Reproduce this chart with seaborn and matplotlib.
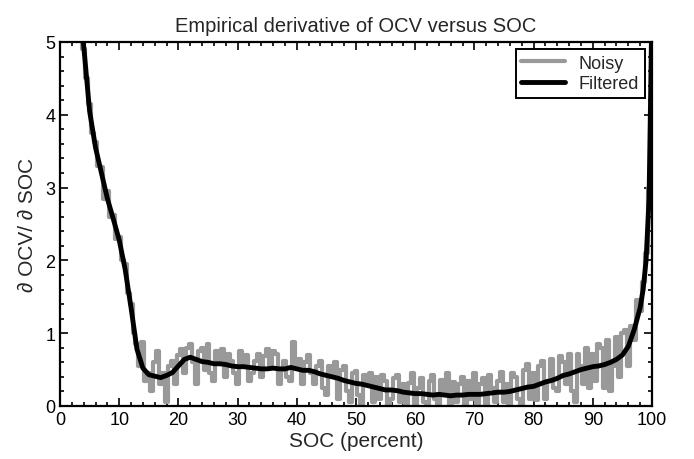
import matplotlib
matplotlib.use("Agg")
import matplotlib.pyplot as plt
from matplotlib.ticker import MultipleLocator
import seaborn as sns
import pandas as pd

# ---- data ----
ocv_noisy = [
    5.50, 4.90, 4.50,                                              # 3.5 - 4.5
    4.15, 3.75, 3.62, 3.30, 3.28, 2.85, 2.95, 2.60, 2.62, 2.30,    # 5.0 - 9.5
    2.32, 2.00, 1.95, 1.55, 1.40, 1.00, 0.85, 0.55, 0.88, 0.35,    # 10 - 14.5
    0.45, 0.20, 0.60, 0.75, 0.30, 0.45, 0.05, 0.55, 0.62, 0.30,    # 15 - 19.5
    0.70, 0.78, 0.45, 0.80, 0.85, 0.60, 0.30, 0.75, 0.80, 0.50,    # 20 - 24.5
    0.85, 0.45, 0.35, 0.75, 0.60, 0.78, 0.40, 0.72, 0.62, 0.45,    # 25 - 29.5
    0.30, 0.75, 0.55, 0.70, 0.35, 0.45, 0.62, 0.72, 0.40, 0.68,    # 30 - 34.5
    0.78, 0.55, 0.75, 0.72, 0.30, 0.50, 0.62, 0.40, 0.35, 0.88,    # 35 - 39.5
    0.55, 0.65, 0.30, 0.60, 0.70, 0.45, 0.30, 0.55, 0.62, 0.25,    # 40 - 44.5
    0.15, 0.55, 0.42, 0.60, 0.10, 0.50, 0.55, 0.20, 0.05, 0.45,    # 45 - 49.5
    0.48, 0.15, 0.00, 0.42, 0.30, 0.45, 0.05, 0.40, 0.10, 0.42,    # 50 - 54.5
    0.35, 0.00, 0.10, 0.38, 0.42, 0.05, 0.30, 0.00, 0.32, 0.45,    # 55 - 59.5
    0.00, 0.25, 0.38, 0.05, 0.00, 0.35, 0.42, 0.10, 0.00, 0.36,    # 60 - 64.5
    0.20, 0.45, 0.00, 0.33, 0.05, 0.30, 0.40, 0.00, 0.35, 0.10,    # 65 - 69.5
    0.45, 0.00, 0.30, 0.38, 0.02, 0.42, 0.25, 0.05, 0.35, 0.47,    # 70 - 74.5
    0.05, 0.30, 0.00, 0.45, 0.40, 0.10, 0.02, 0.50, 0.58, 0.10,    # 75 - 79.5
    0.45, 0.08, 0.55, 0.62, 0.10, 0.35, 0.65, 0.25, 0.20, 0.68,    # 80 - 84.5
    0.60, 0.30, 0.72, 0.20, 0.05, 0.72, 0.55, 0.30, 0.80, 0.25,    # 85 - 89.5
    0.72, 0.35, 0.85, 0.80, 0.25, 0.90, 0.20, 0.55, 0.95, 0.40,    # 90 - 94.5
    1.00, 1.05, 0.55, 1.10, 0.90, 1.45, 1.30, 1.70, 2.10, 3.00,    # 95 - 99.5
    5.50,                                                          # 100
]
soc_noisy = [3.5 + 0.5 * i for i in range(len(ocv_noisy))]  # sample positions 3.5 .. 100

soc_filtered = [3, 4, 5, 6, 7, 8, 9, 10, 11, 12, 13, 14, 15, 16, 17, 18, 19, 20,
                21, 22, 23, 24, 25, 26, 27, 28, 29, 30, 31, 32, 33, 34, 35, 36, 37, 38,
                39, 40, 41, 42, 43, 44, 45, 46, 47, 48, 49, 50, 51, 52, 53, 54, 55, 56,
                57, 58, 59, 60, 61, 62, 63, 64, 65, 66, 67, 68, 69, 70, 71, 72, 73, 74,
                75, 76, 77, 78, 79, 80, 81, 82, 83, 84, 85, 86, 87, 88, 89, 90, 91, 92,
                93, 94, 95, 96, 97, 98, 98.5, 99, 99.5, 100]
ocv_filtered = [5.90, 4.95, 4.05, 3.55, 3.20, 2.85, 2.57, 2.28, 1.88, 1.35, 0.78, 0.52,
                0.43, 0.41, 0.39, 0.42, 0.46, 0.55, 0.64, 0.67, 0.64, 0.61, 0.60, 0.58,
                0.58, 0.57, 0.55, 0.54, 0.54, 0.53, 0.52, 0.51, 0.51, 0.52, 0.51, 0.51,
                0.53, 0.51, 0.49, 0.49, 0.47, 0.44, 0.42, 0.40, 0.38, 0.35, 0.33, 0.31,
                0.30, 0.28, 0.26, 0.24, 0.22, 0.22, 0.21, 0.19, 0.18, 0.17, 0.17, 0.16,
                0.15, 0.16, 0.15, 0.14, 0.15, 0.15, 0.16, 0.16, 0.16, 0.17, 0.18, 0.19,
                0.19, 0.20, 0.22, 0.24, 0.26, 0.27, 0.30, 0.33, 0.35, 0.38, 0.42, 0.44,
                0.47, 0.50, 0.52, 0.54, 0.55, 0.57, 0.60, 0.64, 0.70, 0.82, 1.05, 1.35,
                1.60, 2.00, 2.84, 5.50]

title = "Empirical derivative of OCV versus SOC"
xlabel = "SOC (percent)"
ylabel = "\u2202 OCV/ \u2202 SOC"

# ---- styling ----
sns.set_style("ticks")
plt.rcParams["font.family"] = ["Liberation Sans", "DejaVu Sans"]
plt.rcParams["axes.linewidth"] = 1.6

fig = plt.figure(figsize=(6.94, 4.60), dpi=100)
ax = fig.add_axes([60 / 694, 1 - 407 / 460, 592 / 694, 364 / 460])

noisy_df = pd.DataFrame({"soc": soc_noisy, "v": ocv_noisy})
filt_df = pd.DataFrame({"soc": soc_filtered, "v": ocv_filtered})

sns.lineplot(data=noisy_df, x="soc", y="v", ax=ax, color="#999999", linewidth=3.0,
             estimator=None, sort=False, label="Noisy", drawstyle="steps-mid")
sns.lineplot(data=filt_df, x="soc", y="v", ax=ax, color="black", linewidth=3.5,
             estimator=None, sort=False, label="Filtered")

ax.set_xlim(0, 100)
ax.set_ylim(0, 5)
ax.xaxis.set_major_locator(MultipleLocator(10))
ax.xaxis.set_minor_locator(MultipleLocator(2))
ax.yaxis.set_major_locator(MultipleLocator(1))
ax.yaxis.set_minor_locator(MultipleLocator(0.2))
ax.tick_params(which="both", direction="in", top=True, right=True, colors="black",
               labelsize=13, width=1.2)
ax.tick_params(which="major", length=6)
ax.tick_params(which="minor", length=3)
for s in ax.spines.values():
    s.set_color("black")
    s.set_linewidth(1.6)

ax.set_title(title, fontsize=14.5, pad=8)
ax.set_xlabel(xlabel, fontsize=15, labelpad=2)
ax.set_ylabel(ylabel, fontsize=15, labelpad=6)

leg = ax.legend(loc="upper right", fontsize=13, frameon=True, fancybox=False,
                edgecolor="black", framealpha=1, borderaxespad=0.4,
                handlelength=2.4, borderpad=0.3, labelspacing=0.2)
leg.get_frame().set_linewidth(1.4)

fig.savefig("out.png", dpi=100)
